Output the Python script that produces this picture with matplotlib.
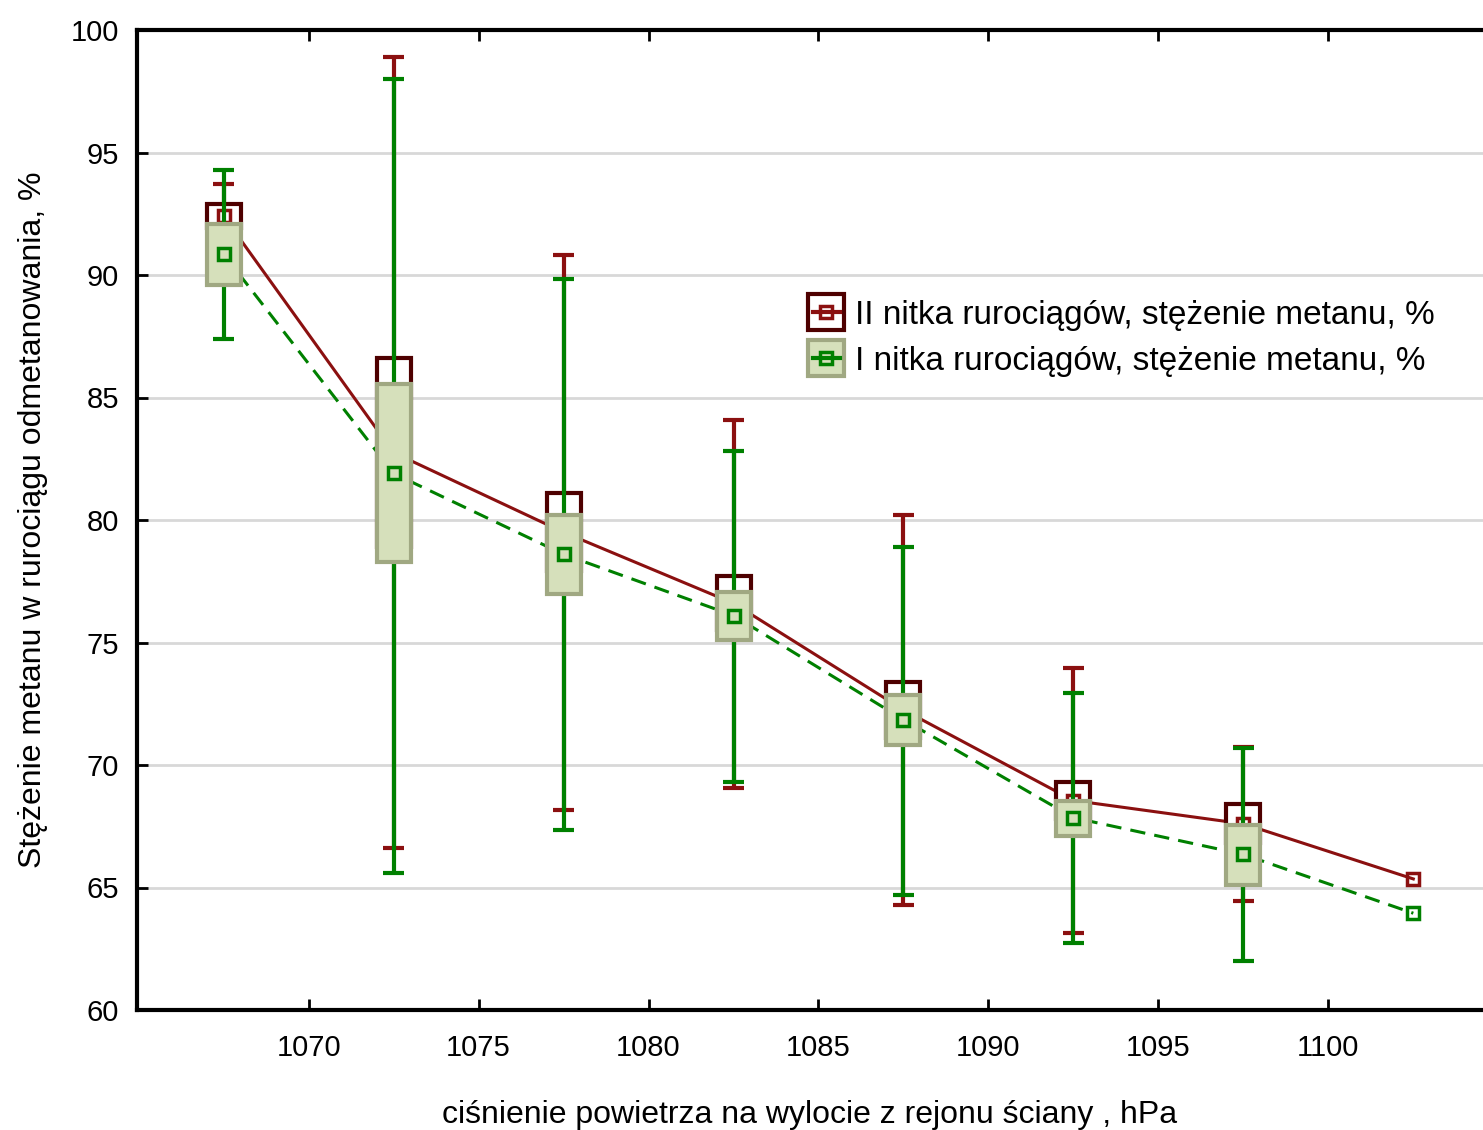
import numpy as np
import matplotlib
matplotlib.use("Agg")
import matplotlib.pyplot as plt
from matplotlib.lines import Line2D
from matplotlib.legend_handler import HandlerTuple

# cisnienie, hPa (srodki przedzialow)
x = [1067.5, 1072.5, 1077.5, 1082.5, 1087.5, 1092.5, 1097.5, 1102.5]

# II nitka - srednia, srednia +/- blad std, +/- 1.96*odch. std
ii_mean = [92.4, 82.75, 79.5, 76.6, 72.25, 68.55, 67.6, 65.35]
ii_box_hi = [92.9, 86.6, 81.1, 77.7, 73.4, 69.3, 68.4, np.nan]
ii_box_lo = [91.9, 78.9, 77.9, 75.5, 71.1, 67.8, 66.8, np.nan]
ii_wh_hi = [93.7, 98.9, 90.8, 84.1, 80.2, 73.95, 70.75, np.nan]
ii_wh_lo = [91.1, 66.6, 68.15, 69.05, 64.3, 63.15, 64.45, np.nan]

# I nitka
i_mean = [90.85, 81.9, 78.6, 76.1, 71.85, 67.85, 66.35, 63.95]
i_box_hi = [92.1, 85.55, 80.2, 77.05, 72.85, 68.55, 67.55, np.nan]
i_box_lo = [89.6, 78.3, 77.0, 75.1, 70.8, 67.1, 65.1, np.nan]
i_wh_hi = [94.3, 98.0, 89.85, 82.8, 78.9, 72.95, 70.7, np.nan]
i_wh_lo = [87.4, 65.6, 67.35, 69.3, 64.7, 62.75, 62.0, np.nan]

RED = "#8b1010"
RED_DARK = "#4e0000"
GREEN = "#008000"
BOX_FACE = "#d6e0bb"
BOX_EDGE = "#a0a882"

plt.rcParams['font.family'] = ['Liberation Sans', 'DejaVu Sans']

fig = plt.figure(figsize=(14.83, 11.3), dpi=100)
ax = fig.add_axes([137/1483, 1-1010/1130, 1346/1483, 980/1130])

x = np.array(x)
bw = 1.0

def draw(mean, bhi, blo, whi, wlo, col, face, edge, ls, z):
    mean = np.array(mean); bhi = np.array(bhi); blo = np.array(blo)
    whi = np.array(whi); wlo = np.array(wlo)
    ok = ~np.isnan(bhi)
    ax.bar(x[ok], bhi[ok]-blo[ok], bottom=blo[ok], width=bw, color=face,
           edgecolor=edge, linewidth=3, zorder=z+2)
    ax.vlines(x[ok], wlo[ok], whi[ok], color=col, lw=3, zorder=z+1)
    ax.hlines(whi[ok], x[ok]-0.3, x[ok]+0.3, color=col, lw=3, zorder=z+1)
    ax.hlines(wlo[ok], x[ok]-0.3, x[ok]+0.3, color=col, lw=3, zorder=z+1)
    ax.plot(x, mean, color=col, ls=ls, lw=2.2, zorder=z)
    ax.plot(x, mean, ls='none', marker='s', ms=9, mfc='none', mec=col,
            mew=2.5, zorder=z+2.5)

# II nitka (pod spodem)
draw(ii_mean, ii_box_hi, ii_box_lo, ii_wh_hi, ii_wh_lo, RED, 'white',
     RED_DARK, '-', 2)
# I nitka
draw(i_mean, i_box_hi, i_box_lo, i_wh_hi, i_wh_lo, GREEN, BOX_FACE,
     BOX_EDGE, (0, (5, 3)), 4.2)

ax.set_xlim(1064.95, 1104.55)
ax.set_ylim(60, 100)
ax.set_xticks([1070, 1075, 1080, 1085, 1090, 1095, 1100])
ax.set_yticks(np.arange(60, 101, 5))
ax.yaxis.grid(True, color='#d8d8d8', lw=2)
ax.set_axisbelow(True)

for s in ['left', 'bottom', 'top']:
    ax.spines[s].set_linewidth(3)
ax.spines['right'].set_visible(False)
ax.tick_params(direction='in', length=8, width=2, labelsize=21, top=True)
ax.tick_params(axis='x', pad=17)
ax.tick_params(axis='y', pad=13)

ax.set_xlabel("ciśnienie powietrza na wylocie z rejonu ściany , hPa",
              fontsize=23, labelpad=28)
ax.set_ylabel("Stężenie metanu w rurociągu odmetanowania, %",
              fontsize=23, labelpad=16)

h_ii = (Line2D([], [], ls='none', marker='s', ms=26, mfc='white',
               mec=RED_DARK, mew=3),
        Line2D([], [], color=RED, lw=3, marker='s', ms=8, mfc='none',
               mec=RED, mew=2.5))
h_i = (Line2D([], [], ls='none', marker='s', ms=26, mfc=BOX_FACE,
              mec=BOX_EDGE, mew=3),
       Line2D([], [], color=GREEN, lw=3, marker='s', ms=8, mfc='none',
              mec=GREEN, mew=2.5))
leg = ax.legend([h_ii, h_i],
                ["II nitka rurociągów, stężenie metanu, %",
                 "I nitka rurociągów, stężenie metanu, %"],
                handler_map={tuple: HandlerTuple(ndivide=1)},
                loc='upper left', bbox_to_anchor=(0.48, 0.755),
                frameon=False, fontsize=24, handlelength=0.8,
                handletextpad=0.45, labelspacing=0.45)

plt.savefig("out.png", dpi=100)
